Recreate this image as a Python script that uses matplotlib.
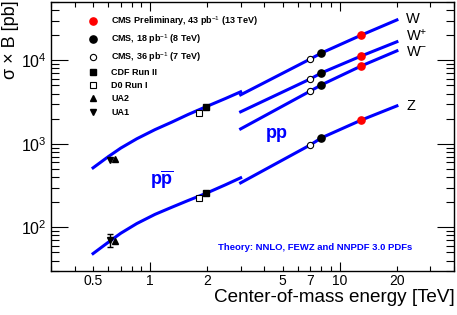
import matplotlib
matplotlib.use("Agg")
import matplotlib.pyplot as plt
from matplotlib.ticker import FixedLocator, FuncFormatter

plt.rcParams['font.family'] = 'Liberation Sans'
plt.rcParams['mathtext.fontset'] = 'custom'
plt.rcParams['mathtext.rm'] = 'Liberation Sans'
plt.rcParams['mathtext.it'] = 'Liberation Sans:italic'
plt.rcParams['mathtext.bf'] = 'Liberation Sans:bold'

# -----------------------------
# Theory curves (NNLO, FEWZ, NNPDF 3.0)
# -----------------------------
ppbar_energy = [0.5, 0.6, 0.7, 0.85, 1.06, 1.3, 1.58, 1.96, 2.5, 3.0]
ppbar_w_theory = [516, 700, 890, 1150, 1480, 1820, 2240, 2770, 3500, 4200]
ppbar_z_theory = [48.5, 66, 85, 111, 143, 174, 209, 254, 324, 392]

pp_energy = [3.0, 7.0, 8.0, 13.0, 20.0]
pp_w_theory = [3865, 10400, 12250, 20100, 30500]
pp_wplus_theory = [2420, 6000, 7080, 11300, 16700]
pp_wminus_theory = [1510, 4300, 5090, 8590, 13000]
pp_z_theory = [341, 973, 1180, 1930, 2850]

# -----------------------------
# Measurements
# -----------------------------
cms13_energy = 13.0
cms13_xsec = [20100, 11300, 8590, 1930]   # W, W+, W-, Z
cms8_energy = 8.0
cms8_xsec = [12250, 7080, 5090, 1180]
cms7_energy = 7.0
cms7_xsec = [10400, 6000, 4310, 973]

cdf_energy = 1.96
cdf_xsec = [2775, 255]    # W, Z
d0_energy = 1.8
d0_xsec = [2350, 225]
ua2_energy = 0.65
ua2_xsec = [660, 69]
ua1_energy = 0.615
ua1_xsec = [643, 71]
ua1_z_err = 13

line_color = "#0000ff"

fig = plt.figure(figsize=(4.57, 3.15), dpi=100)
ax = fig.add_axes([51/457, 1 - 271/315, 403/457, 269/315])

# theory lines
for vals in [ppbar_w_theory, ppbar_z_theory]:
    ax.plot(ppbar_energy, vals, color=line_color, lw=2.2, zorder=2)
for vals in [pp_w_theory, pp_wplus_theory, pp_wminus_theory, pp_z_theory]:
    ax.plot(pp_energy, vals, color=line_color, lw=2.2, zorder=2)

# data points
h_cms13, = ax.plot([cms13_energy]*4, cms13_xsec, 'o', color='red', ms=5.2, ls='none', zorder=5)
h_cms8, = ax.plot([cms8_energy]*4, cms8_xsec, 'o', color='black', ms=5.2, ls='none', zorder=5)
h_cms7, = ax.plot([cms7_energy]*4, cms7_xsec, 'o', mfc='white', mec='black', mew=0.8, ms=4.5, ls='none', zorder=5)
h_cdf, = ax.plot([cdf_energy]*2, cdf_xsec, 's', color='black', ms=4.6, ls='none', zorder=5)
h_d0, = ax.plot([d0_energy]*2, d0_xsec, 's', mfc='white', mec='black', mew=0.8, ms=4.6, ls='none', zorder=4)
h_ua2, = ax.plot([ua2_energy]*2, ua2_xsec, '^', color='black', ms=4.8, ls='none', zorder=5)
h_ua1, = ax.plot([ua1_energy]*2, ua1_xsec, 'v', color='black', ms=4.8, ls='none', zorder=5)
ax.errorbar([ua1_energy], [ua1_xsec[1]], yerr=[ua1_z_err], fmt='none', ecolor='black',
            elinewidth=1, capsize=2, zorder=5)

ax.set_xscale('log')
ax.set_yscale('log')
ax.set_xlim(0.3, 40)
ax.set_ylim(30, 5e4)

# ROOT-like ticks
ax.xaxis.set_major_locator(FixedLocator([1, 10]))
ax.xaxis.set_minor_locator(FixedLocator([0.3, 0.4, 0.5, 0.6, 0.7, 0.8, 0.9,
                                         2, 3, 4, 5, 6, 7, 8, 9, 20, 30, 40]))
ax.xaxis.set_major_formatter(FuncFormatter(lambda v, p: f"{v:g}"))
ax.xaxis.set_minor_formatter(FuncFormatter(
    lambda v, p: f"{v:g}" if round(v, 2) in (0.5, 2, 5, 7, 20) else ""))
ax.tick_params(which='both', direction='in', top=True, right=True, width=0.8)
ax.tick_params(axis='x', which='major', length=6.5, labelsize=10, pad=2.5)
ax.tick_params(axis='x', which='minor', length=3.6, labelsize=10, pad=2.5)
ax.tick_params(axis='y', which='major', length=12, labelsize=11.5, pad=3)
ax.tick_params(axis='y', which='minor', length=6)
for s in ax.spines.values():
    s.set_linewidth(1.0)

ax.set_xlabel("Center-of-mass energy [TeV]", fontsize=13.6, loc='right')
ax.xaxis.set_label_coords(1.002, -0.066)
ax.set_ylabel("σ × B [pb]", fontsize=13, loc='top')
ax.yaxis.set_label_coords(-0.079, 1.007)

# curve labels
ax.text(0.881, 0.921, "W", transform=ax.transAxes, fontsize=10.5, va='baseline')
ax.text(0.881, 0.857, "W$^{+}$", transform=ax.transAxes, fontsize=10.5, va='baseline')
ax.text(0.881, 0.800, "W$^{-}$", transform=ax.transAxes, fontsize=10.5, va='baseline')
ax.text(0.881, 0.599, "Z", transform=ax.transAxes, fontsize=10.5, va='baseline')

ax.text(0.561, 0.506, r"$\mathbf{pp}$", transform=ax.transAxes, fontsize=13,
        color=line_color, ha='center', va='center')
ax.text(0.275, 0.338, r"$\mathbf{p}\overline{\mathbf{p}}$", transform=ax.transAxes,
        fontsize=13, color=line_color, ha='center', va='center')
ax.text(0.414, 0.089, "Theory: NNLO, FEWZ and NNPDF 3.0 PDFs", transform=ax.transAxes,
        fontsize=6.8, fontweight='bold', color=line_color, va='center')

handles = [h_cms13, h_cms8, h_cms7, h_cdf, h_d0, h_ua2, h_ua1]
labels = ["CMS Preliminary, 43 pb$^{-1}$ (13 TeV)",
          "CMS, 18 pb$^{-1}$ (8 TeV)",
          "CMS, 36 pb$^{-1}$ (7 TeV)",
          "CDF Run II", "D0 Run I", "UA2", "UA1"]
ax.legend(handles, labels, loc='upper left', bbox_to_anchor=(0.0918, 0.955),
          frameon=False, prop={'size': 6.5, 'weight': 'bold'}, handlelength=1.0,
          handletextpad=1.6, labelspacing=0.47, borderpad=0, borderaxespad=0)

plt.savefig("out.png", dpi=100)
plt.close()
